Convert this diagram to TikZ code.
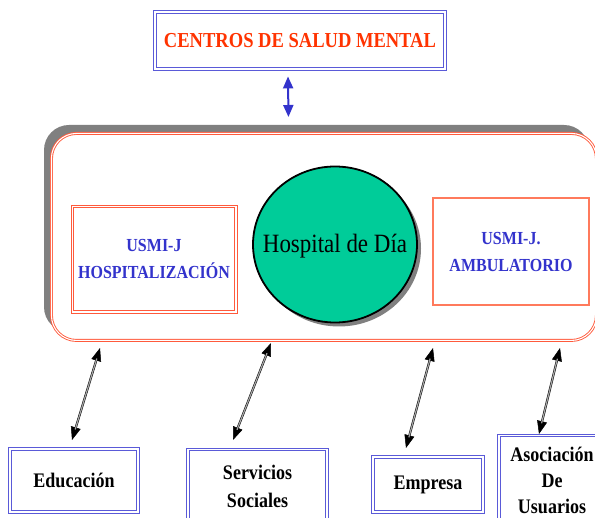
\documentclass[tikz,border=0pt]{standalone}
\usepackage{fontspec}
\setmainfont{Liberation Serif}[FakeStretch=0.87]
\usetikzlibrary{arrows.meta,shapes.geometric}
\definecolor{bbox}{HTML}{5A5AD8}
\definecolor{btxt}{HTML}{3333CC}
\definecolor{rtxt}{HTML}{FF3300}
\definecolor{obox}{HTML}{FF5A3C}
\definecolor{obox2}{HTML}{FF7A5C}
\definecolor{tealg}{HTML}{00CC99}
\definecolor{shad}{HTML}{808080}
\begin{document}
\begin{tikzpicture}[x=1pt,y=-1pt,
  bluebox/.style={draw=bbox, double=white, line width=0.9pt, double distance=1.3pt, fill=white, inner sep=0pt},
  orangedbl/.style={draw=obox, double=white, line width=0.9pt, double distance=1.1pt, fill=white, inner sep=0pt},
  orangeline/.style={draw=obox, line width=0.8pt, inner sep=0pt},
  orangesgl/.style={draw=obox2, line width=1.2pt, fill=white, inner sep=0pt},
  btext/.style={align=center, font=\fontsize{20.7}{28}\selectfont\bfseries, text=black},
  utext/.style={align=center, font=\fontsize{18.4}{27}\selectfont\bfseries, text=btxt},
  darrowtips/.style={line width=0.5pt, draw=black, {Triangle[length=13pt,width=10pt]}-{Triangle[length=13pt,width=10pt]}},
  darrowshaft/.style={line width=0.5pt, draw=black, double=gray!70, double distance=1.2pt, shorten <=11pt, shorten >=11pt},
  barrow/.style={line width=2pt, draw=btxt, {Triangle[length=12pt,width=10pt]}-{Triangle[length=12pt,width=10pt]}}
]
\useasboundingbox (0,0) rectangle (595,518);
\clip (0,0) rectangle (595,518);

% top box
\node[bluebox, minimum width=290pt, minimum height=57pt,
      font=\fontsize{21.3}{24}\selectfont\bfseries, text=rtxt] (csm) at (300,40.5) {CENTROS DE SALUD MENTAL};

% container with shadow
\fill[shad, rounded corners=25pt] (44,125) rectangle (589,332);
\node[orangedbl, rounded corners=25pt, minimum width=545pt, minimum height=207pt, anchor=north west] (cont) at (51,133) {};

% inner boxes
\node[orangeline, minimum width=166pt, minimum height=108pt] (hosp) at (154,259) {};
\node[orangeline, minimum width=161pt, minimum height=103pt] (hospin) at (154,259) {};
\node[utext] (hospt) at (154,259) {USMI-J\\HOSPITALIZACIÓN};
\node[orangesgl, minimum width=156pt, minimum height=107pt] (amb) at (511,251.5) {};
\node[utext] (ambt) at (511,252.5) {USMI-J.\\AMBULATORIO};

% circle
\fill[shad] (339,248.5) ellipse [x radius=82pt, y radius=78pt];
\node[ellipse, draw=black, line width=1.8pt, fill=tealg, minimum width=164pt, minimum height=156pt, inner sep=0pt] (hdd) at (335,244.5) {};
\node[font=\fontsize{26.4}{30}\selectfont] (hddt) at (335,246) {Hospital de Día};

% blue arrow
\draw[barrow] ([xshift=-12pt,yshift=-7pt]csm.south) -- ([xshift=-35.5pt,yshift=16pt]cont.north);

% bottom boxes
\node[bluebox, minimum width=128pt, minimum height=63pt, btext] (edu) at (74,480.5) {Educación};
\node[bluebox, minimum width=139pt, minimum height=82pt, anchor=north] (serv) at (257.5,449) {};
\node[btext] (servt) at (257.5,486) {Servicios\\Sociales};
\node[bluebox, minimum width=110pt, minimum height=55pt, btext] (emp) at (428,484.5) {Empresa};
\node[bluebox, minimum width=98pt, minimum height=92pt, anchor=north] (aso) at (548,435) {};
\node[btext, font=\fontsize{20.7}{26}\selectfont\bfseries] (asot) at (552,480) {Asociación\\De\\Usuarios};

% connector end points
\coordinate (a1s) at (100,348); \coordinate (a1e) at (72,440);
\coordinate (a2s) at (271,343); \coordinate (a2e) at (233,440);
\coordinate (a3s) at (433,348); \coordinate (a3e) at (406,448);
\coordinate (a4s) at (560,348); \coordinate (a4e) at (539,434);

\foreach \s/\e in {a1s/a1e,a2s/a2e,a3s/a3e,a4s/a4e}{
  \draw[darrowtips] (\s) -- (\e);
  \draw[darrowshaft] (\s) -- (\e);
}
\end{tikzpicture}
\end{document}
